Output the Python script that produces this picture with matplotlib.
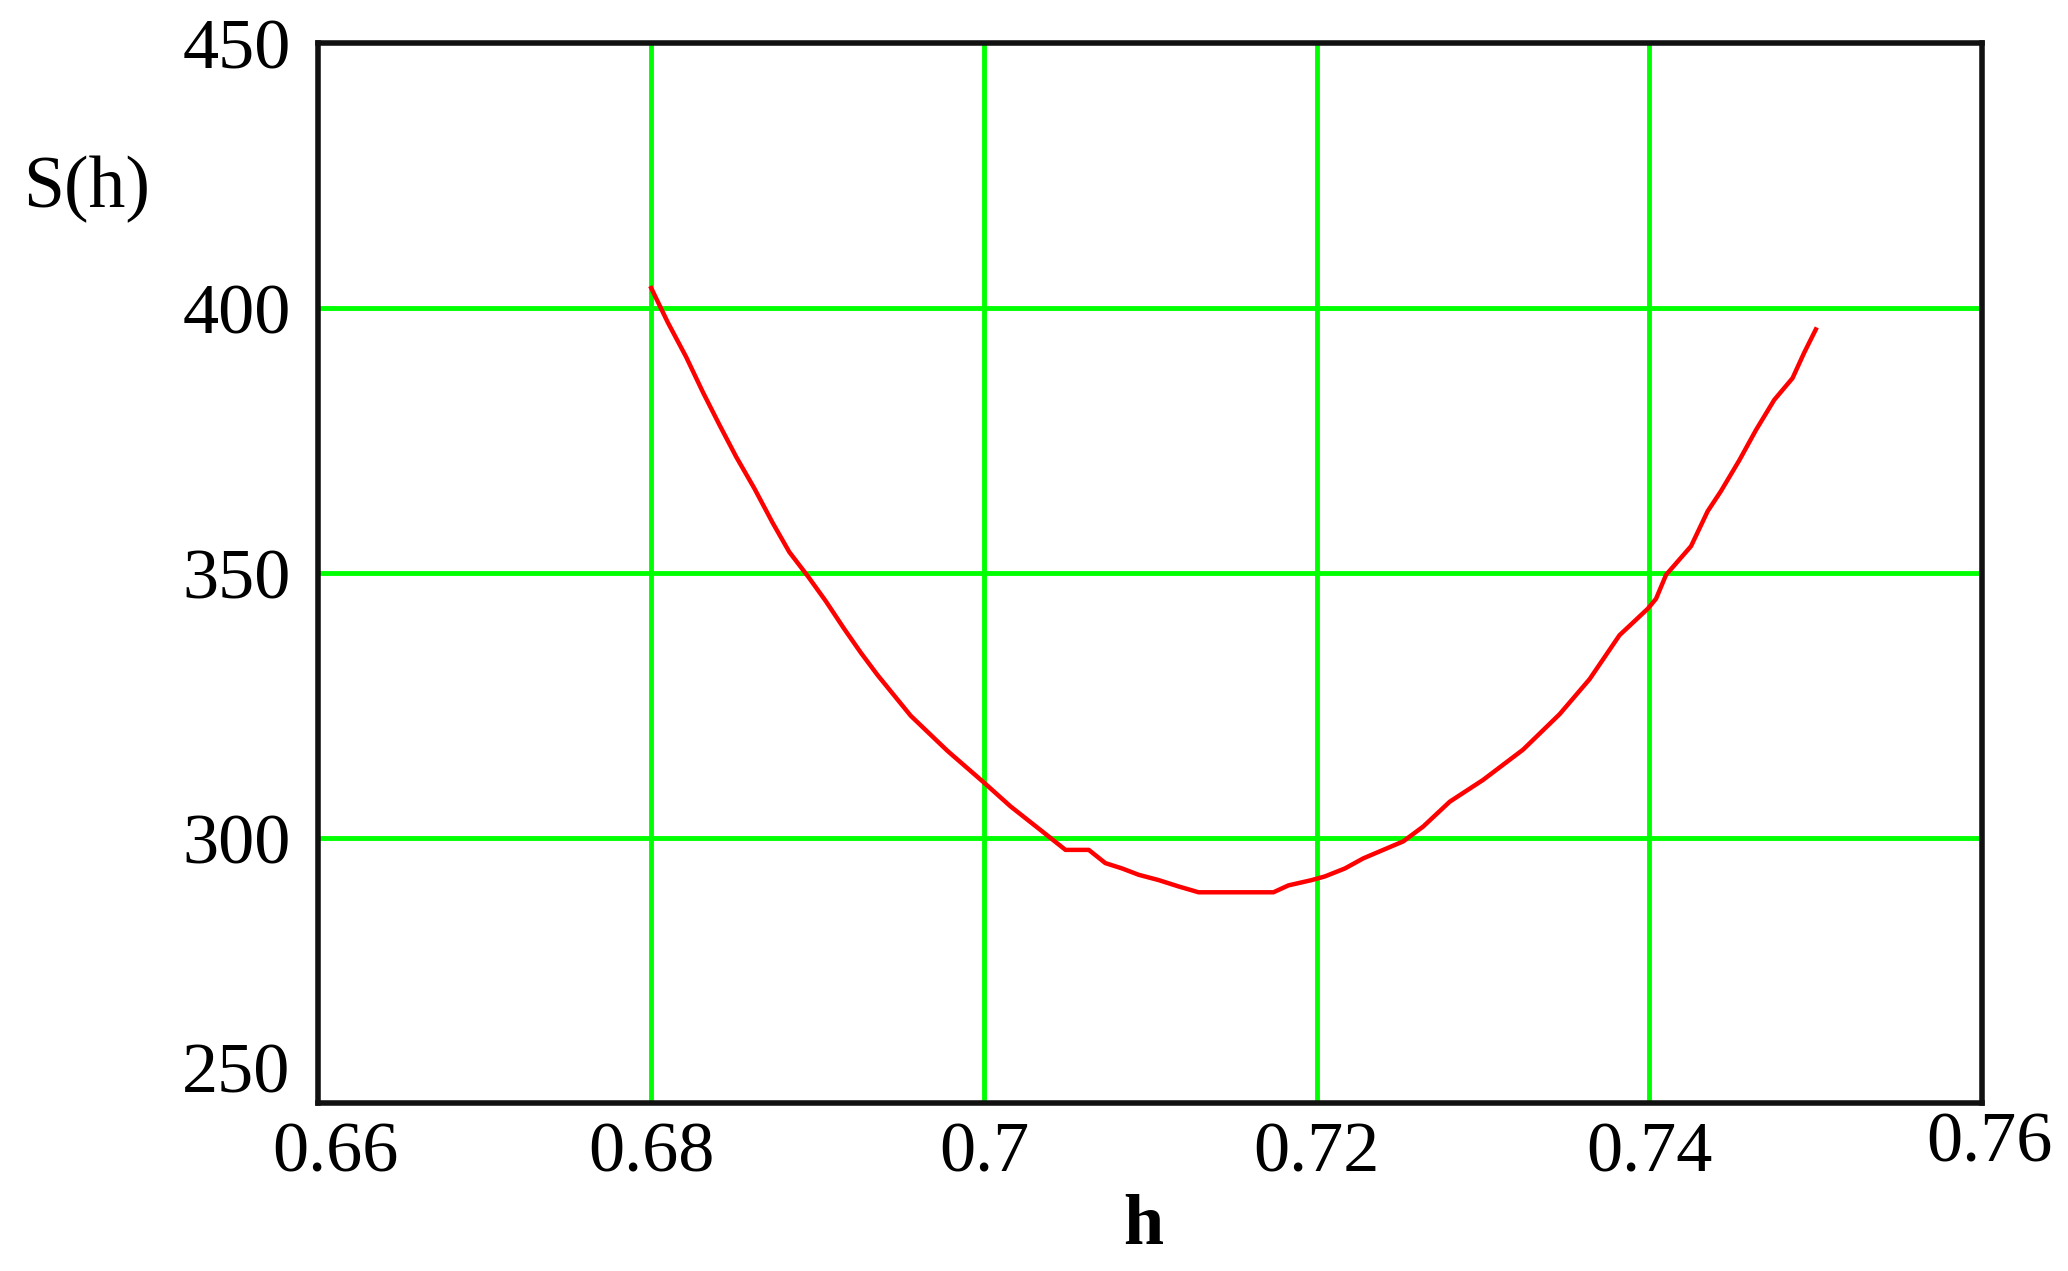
import matplotlib
matplotlib.use('Agg')
import matplotlib.pyplot as plt
import matplotlib.transforms as mtransforms
import numpy as np

# values
h = [0.6800, 0.6810, 0.6821, 0.6831, 0.6841, 0.6851, 0.6862, 0.6873,
     0.6883, 0.6894, 0.6905, 0.6916, 0.6926, 0.6936, 0.6956, 0.6978,
     0.7000, 0.7016, 0.7037, 0.7049, 0.7063, 0.7073, 0.7083, 0.7093, 0.7105,
     0.7117, 0.7129, 0.7151, 0.7174, 0.7183, 0.7197, 0.7205, 0.7217, 0.7228,
     0.7240, 0.7252, 0.7264, 0.7280, 0.7300,
     0.7324, 0.7346, 0.7364, 0.7382, 0.7399, 0.7404, 0.7410, 0.7425, 0.7435,
     0.7443, 0.7454, 0.7464, 0.7475, 0.7486, 0.7493, 0.7500]
S = [403.8, 397.3, 390.8, 384.2, 378.0, 372.0, 366.0, 359.5,
     354.0, 349.5, 344.7, 339.5, 335.0, 330.8, 323.1, 316.5,
     310.5, 306.0, 300.8, 297.8, 297.8, 295.3, 294.3, 293.1, 292.1,
     290.9, 289.8, 289.8, 289.8, 291.1, 292.1, 292.8, 294.3, 296.2,
     297.8, 299.4, 302.2, 306.9, 311.0,
     316.7, 323.4, 330.0, 338.3, 343.3, 345.2, 349.7, 355.1, 361.7,
     365.5, 371.3, 377.0, 382.7, 386.8, 391.6, 396.0]

x_ticks = [0.66, 0.68, 0.70, 0.72, 0.74, 0.76]
x_labels = ["0.66", "0.68", "0.7", "0.72", "0.74", "0.76"]
y_ticks = [250, 300, 350, 400, 450]
y_labels = ["250", "300", "350", "400", "450"]
x_grid = [0.68, 0.70, 0.72, 0.74]
y_grid = [300, 350, 400]

plt.rcParams['font.family'] = ['Liberation Serif', 'DejaVu Serif']

fig = plt.figure(figsize=(20.68, 12.71), dpi=100)
ax = fig.add_axes([0.154, 0.132, 0.8045, 0.834])

for xv in x_grid:
    ax.axvline(xv, color="#00ff00", lw=3.5, zorder=1)
for yv in y_grid:
    ax.axhline(yv, color="#00ff00", lw=3.5, zorder=1)

ax.plot(h, S, color="#ff0000", lw=3.2, zorder=3)

ax.set_xlim(0.66, 0.76)
ax.set_ylim(250, 450)
ax.set_xticks(x_ticks)
ax.set_xticklabels(x_labels)
ax.set_yticks(y_ticks)
ax.set_yticklabels(y_labels)
ax.tick_params(length=0, labelsize=52, colors="black")
ax.tick_params(axis="x", pad=13)
ax.tick_params(axis="y", pad=20)
for sp in ax.spines.values():
    sp.set_linewidth(4)
    sp.set_color("#111111")
    sp.set_zorder(4)

# corner labels shifted like the original
def shift(lbl, dx, dy):
    lbl.set_transform(lbl.get_transform() + mtransforms.ScaledTranslation(dx / 72, dy / 72, fig.dpi_scale_trans))

xl = ax.get_xticklabels()
shift(xl[0], 12, 0)
shift(xl[-1], 5, 7)
yl = ax.get_yticklabels()
shift(yl[0], 0, 26)

fig.text(0.042, 0.851, "S(h)", fontsize=53, ha="center", va="center")
fig.text(0.553, 0.035, "h", fontsize=52, ha="center", va="center", fontweight="bold")

fig.savefig("out.png", dpi=100)
